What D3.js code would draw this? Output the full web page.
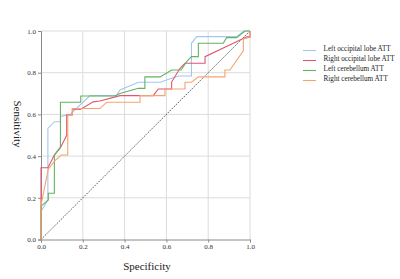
<!DOCTYPE html>
<html><head><meta charset="utf-8">
<script src="https://cdn.jsdelivr.net/npm/d3@7"></script>
<style>html,body{margin:0;padding:0;background:#fff;}svg{display:block;}</style>
</head><body>
<svg id="c" width="400" height="279"></svg>
<script>
const seriesNames = ["Left occipital lobe ATT","Right occipital lobe ATT","Left cerebellum ATT","Right cerebellum ATT"];
const seriesColors = ["#a3c6f0","#e05570","#62b462","#f5a370"];
const tickValues = [0,0.2,0.4,0.6,0.8,1.0];
const leftOccipital = [[0,0],[0,0.135],[0.033,0.19],[0.033,0.533],[0.065,0.565],[0.093,0.565],[0.093,0.59],[0.139,0.6],[0.235,0.69],[0.36,0.69],[0.378,0.717],[0.466,0.754],[0.57,0.754],[0.657,0.784],[0.72,0.784],[0.72,0.941],[0.745,0.973],[0.936,0.973],[0.97,1.0],[1,1]];
const rightOccipital = [[0,0],[0,0.344],[0.033,0.344],[0.064,0.405],[0.093,0.44],[0.123,0.5],[0.123,0.597],[0.15,0.597],[0.15,0.625],[0.19,0.625],[0.25,0.66],[0.282,0.664],[0.378,0.69],[0.537,0.69],[0.561,0.722],[0.625,0.722],[0.625,0.755],[0.665,0.821],[0.689,0.845],[0.785,0.845],[0.785,0.877],[0.985,0.972],[1.0,0.972],[1.0,1.0]];
const leftCerebellum = [[0,0],[0,0.16],[0.035,0.19],[0.035,0.222],[0.064,0.222],[0.064,0.405],[0.093,0.445],[0.093,0.658],[0.19,0.658],[0.19,0.688],[0.354,0.688],[0.378,0.70],[0.466,0.725],[0.497,0.725],[0.497,0.78],[0.57,0.78],[0.625,0.813],[0.67,0.813],[0.697,0.853],[0.72,0.877],[0.753,0.877],[0.753,0.941],[0.872,0.941],[0.888,0.968],[0.936,0.968],[0.976,1.0],[1,1]];
const rightCerebellum = [[0,0],[0,0.165],[0.035,0.337],[0.067,0.378],[0.096,0.405],[0.128,0.405],[0.128,0.597],[0.15,0.597],[0.15,0.628],[0.282,0.628],[0.314,0.658],[0.474,0.658],[0.474,0.69],[0.593,0.69],[0.593,0.722],[0.689,0.722],[0.689,0.754],[0.72,0.754],[0.753,0.78],[0.88,0.78],[0.88,0.813],[0.904,0.813],[0.968,0.905],[0.968,0.962],[1.0,0.97],[1.0,1.0]];
const allSeries = [leftOccipital, rightOccipital, leftCerebellum, rightCerebellum];

const svg = d3.select("#c");
const x = d3.scaleLinear().domain([0,1]).range([41,250]);
const y = d3.scaleLinear().domain([0,1]).range([239.5,31]);
const serif = "'Liberation Serif','DejaVu Serif',serif";

// grid
svg.append("g").selectAll("line").data(tickValues.slice(1)).join("line")
  .attr("x1",d=>x(d)).attr("x2",d=>x(d)).attr("y1",y(0)).attr("y2",y(1))
  .attr("stroke","#dcdcdc").attr("stroke-width",1);
svg.append("g").selectAll("line").data(tickValues.slice(1)).join("line")
  .attr("x1",x(0)).attr("x2",x(1)).attr("y1",d=>y(d)).attr("y2",d=>y(d))
  .attr("stroke","#dcdcdc").attr("stroke-width",1);

// axes
const xAxis = svg.append("g").attr("transform",`translate(0,${y(0)})`)
  .call(d3.axisBottom(x).tickValues(tickValues).tickFormat(d3.format(".1f")).tickSize(3).tickPadding(2));
const yAxis = svg.append("g").attr("transform",`translate(${x(0)},0)`)
  .call(d3.axisLeft(y).tickValues(tickValues).tickFormat(d3.format(".1f")).tickSize(3).tickPadding(2));
[xAxis,yAxis].forEach(g=>{
  g.select(".domain").attr("stroke","#8a8a8a");
  g.selectAll(".tick line").attr("stroke","#8a8a8a");
  g.selectAll(".tick text").attr("font-family",serif).attr("font-size",7).attr("fill","#333");
});

// diagonal reference
svg.append("line").attr("x1",x(0)).attr("y1",y(0)).attr("x2",x(1)).attr("y2",y(1))
  .attr("stroke","#333").attr("stroke-width",0.8).attr("stroke-dasharray","1.6,1.2");

// curves
const line = d3.line().x(d=>x(d[0])).y(d=>y(d[1]));
allSeries.forEach((s,i)=>{
  svg.append("path").attr("d",line(s)).attr("fill","none")
    .attr("stroke",seriesColors[i]).attr("stroke-width",1.1);
});

// axis titles
svg.append("text").attr("x",147).attr("y",270).attr("text-anchor","middle")
  .attr("font-family",serif).attr("font-size",11).attr("fill","#222").text("Specificity");
svg.append("text").attr("transform","translate(14,124) rotate(90)").attr("text-anchor","middle")
  .attr("font-family",serif).attr("font-size",11).attr("fill","#222").text("Sensitivity");

// legend
const lg = svg.append("g");
seriesNames.forEach((n,i)=>{
  const yy = 50.5 + i*10;
  lg.append("line").attr("x1",303).attr("x2",316).attr("y1",yy).attr("y2",yy)
    .attr("stroke",seriesColors[i]).attr("stroke-width",1.1);
  lg.append("text").attr("x",323.5).attr("y",yy).attr("dy","0.1em")
    .attr("font-family",serif).attr("font-size",7.2).attr("fill","#222").text(n);
});
</script>
</body></html>
